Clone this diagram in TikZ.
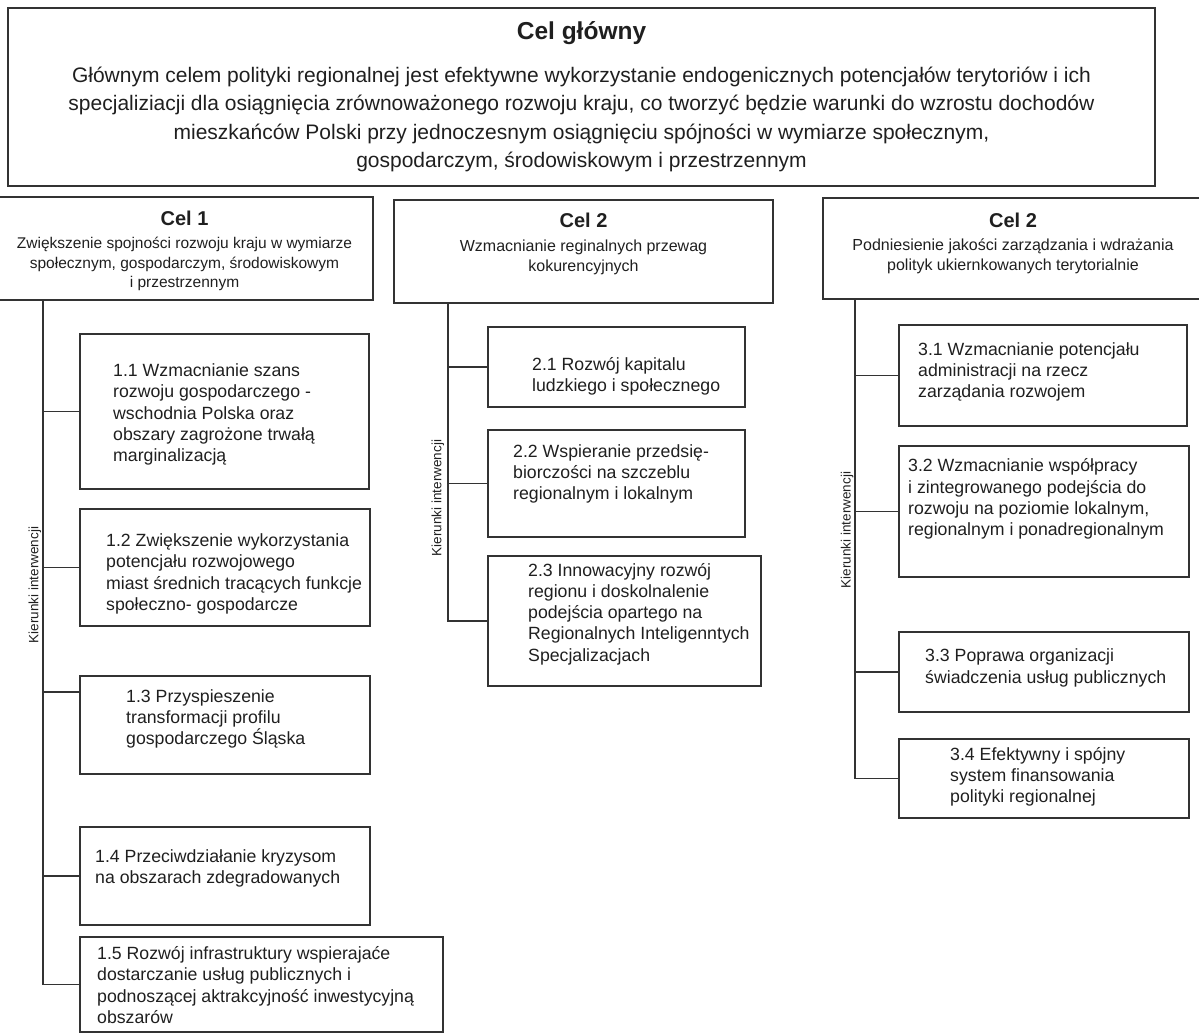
\documentclass[tikz,border=0pt]{standalone}
\usepackage{fontspec}
\setmainfont{Liberation Sans}
\tikzset{blok/.style={draw=black!80, line width=1.6pt, inner sep=0pt, text=black!88}}
\tikzset{celtxt/.style={align=center, inner sep=0pt, text=black!88, font=\fontsize{16}{20}\selectfont}}
\tikzset{leafbox/.style={blok, anchor=north west}}
\tikzset{leaftxt/.style={anchor=west, align=left, inner sep=0pt, text=black!88, font=\fontsize{17.7}{21.3}\selectfont}}
\tikzset{kier/.style={rotate=90, inner sep=0pt, text=black!88, font=\fontsize{13.5}{16}\selectfont}}
\tikzset{conn/.style={draw=black!80, line width=1.6pt}}
\newcommand{\celtitle}[1]{{\fontsize{20}{20}\selectfont\bfseries #1}}

\begin{document}
\begin{tikzpicture}[x=1pt, y=-1pt]

\useasboundingbox (0,0) rectangle (1199,1033);
\clip (0,0) rectangle (1199,1033);

\node at (581.5,97) [blok, align=center, minimum width=1147pt, minimum height=178pt, font=\fontsize{21}{28.5}\selectfont] (glowny)
 {{\fontsize{24.5}{24.5}\selectfont\bfseries Cel główny}\\[14pt]
  Głównym celem polityki regionalnej jest efektywne wykorzystanie endogenicznych potencjałów terytoriów i ich\\
  specjaliziacji dla osiągnięcia zrównoważonego rozwoju kraju, co tworzyć będzie warunki do wzrostu dochodów\\
  mieszkańców Polski przy jednoczesnym osiągnięciu spójności w wymiarze społecznym,\\
  gospodarczym, środowiskowym i przestrzennym};

\node at (184.5,248.5) [blok, minimum width=377pt, minimum height=103pt] (c1) {};
\node at (583.5,251.5) [blok, minimum width=379pt, minimum height=103pt] (c2) {};
\node at (1013,248.5) [blok, minimum width=380pt, minimum height=101pt] (c3) {};

\node at (184.5,251) [celtxt, font=\fontsize{15.5}{19.5}\selectfont] (c1t)
 {\celtitle{Cel 1}\\[4pt] Zwiększenie spojności rozwoju kraju w wymiarze\\ społecznym, gospodarczym, środowiskowym\\ i przestrzennym};
\node at (583.5,244) [celtxt] (c2t)
 {\celtitle{Cel 2}\\[4pt] Wzmacnianie reginalnych przewag\\ kokurencyjnych};
\node at (1013,243) [celtxt] (c3t)
 {\celtitle{Cel 2}\\[3pt] Podniesienie jakości zarządzania i wdrażania\\ polityk ukiernkowanych terytorialnie};

\node at (79,333) [leafbox, minimum width=289pt, minimum height=155pt] (l11) {};
\node at (79,508) [leafbox, minimum width=290pt, minimum height=117pt] (l12) {};
\node at (79,675) [leafbox, minimum width=290pt, minimum height=98pt] (l13) {};
\node at (79,826) [leafbox, minimum width=290pt, minimum height=98pt] (l14) {};
\node at (79,936) [leafbox, minimum width=363pt, minimum height=95pt] (l15) {};
\node at (487,326) [leafbox, minimum width=257pt, minimum height=80pt] (l21) {};
\node at (487,429) [leafbox, minimum width=257pt, minimum height=107pt] (l22) {};
\node at (487,555) [leafbox, minimum width=273pt, minimum height=130pt] (l23) {};
\node at (898,324) [leafbox, minimum width=288pt, minimum height=101pt] (l31) {};
\node at (898,445) [leafbox, minimum width=290pt, minimum height=131pt] (l32) {};
\node at (898,631) [leafbox, minimum width=290pt, minimum height=80pt] (l33) {};
\node at (898,738) [leafbox, minimum width=290pt, minimum height=79pt] (l34) {};

\node at (113,414.5) [leaftxt] (t11) {1.1 Wzmacnianie szans\\ rozwoju gospodarczego -\\ wschodnia Polska oraz\\ obszary zagrożone trwałą\\ marginalizacją};
\node at (106,574) [leaftxt] (t12) {1.2 Zwiększenie wykorzystania\\ potencjału rozwojowego\\ miast średnich tracących funkcje\\ społeczno- gospodarcze};
\node at (126,719) [leaftxt] (t13) {1.3 Przyspieszenie\\ transformacji profilu\\ gospodarczego Śląska};
\node at (95,868.5) [leaftxt] (t14) {1.4 Przeciwdziałanie kryzysom\\ na obszarach zdegradowanych};
\node at (97,985) [leaftxt] (t15) {1.5 Rozwój infrastruktury wspierajaće\\ dostarczanie usług publicznych i\\ podnoszącej aktrakcyjność inwestycyjną\\ obszarów};
\node at (532,376) [leaftxt] (t21) {2.1 Rozwój kapitalu\\ ludzkiego i społecznego};
\node at (513,474) [leaftxt] (t22) {2.2 Wspieranie przedsię-\\ biorczości na szczeblu\\ regionalnym i lokalnym};
\node at (528,614) [leaftxt] (t23) {2.3 Innowacyjny rozwój\\ regionu i doskolnalenie\\ podejścia opartego na\\ Regionalnych Inteligenntych\\ Specjalizacjach};
\node at (918,372) [leaftxt] (t31) {3.1 Wzmacnianie potencjału\\ administracji na rzecz\\ zarządania rozwojem};
\node at (908,499) [leaftxt] (t32) {3.2 Wzmacnianie współpracy\\ i zintegrowanego podejścia do\\ rozwoju na poziomie lokalnym,\\ regionalnym i ponadregionalnym};
\node at (925,668) [leaftxt] (t33) {3.3 Poprawa organizacji\\ świadczenia usług publicznych};
\node at (950,777) [leaftxt] (t34) {3.4 Efektywny i spójny\\ system finansowania\\ polityki regionalnej};

\node at (35,585) [kier] (k1lab) {Kierunki interwencji};
\node at (438,498) [kier] (k2lab) {Kierunki interwencji};
\node at (847,530) [kier] (k3lab) {Kierunki interwencji};

\coordinate (k1) at (43,300);
\coordinate (k2) at (448,303);
\coordinate (k3) at (855,299);

\foreach \l in {l11,l12,l14,l15} \draw[conn] (k1) |- (\l.west);
\draw[conn] (k1) |- ([yshift=33pt]l13.west);
\foreach \l in {l21,l22,l23} \draw[conn] (k2) |- (\l.west);
\foreach \l in {l31,l32,l33,l34} \draw[conn] (k3) |- (\l.west);

\end{tikzpicture}
\end{document}
